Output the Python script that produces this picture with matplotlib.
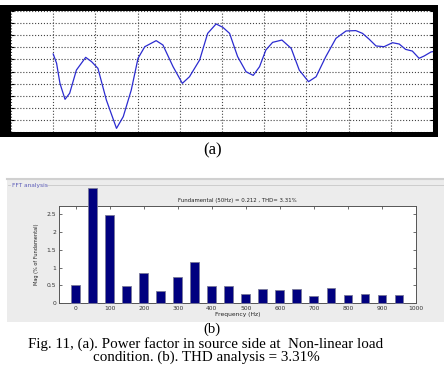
import matplotlib
matplotlib.use("Agg")
import matplotlib.pyplot as plt
from matplotlib.patches import Rectangle
from matplotlib.lines import Line2D

W, H = 444, 380

# (a) power factor trace (grid units 0..10)
pf_x = [1.0, 1.08, 1.16, 1.28, 1.39, 1.55, 1.77, 1.91, 2.06, 2.26, 2.50, 2.66,
        2.85, 3.01, 3.17, 3.44, 3.60, 3.84, 4.06, 4.23, 4.47, 4.66, 4.86, 5.02,
        5.18, 5.37, 5.57, 5.74, 5.89, 6.04, 6.20, 6.42, 6.64, 6.83, 7.05, 7.23,
        7.46, 7.70, 7.94, 8.17, 8.33, 8.49, 8.65, 8.84, 9.04, 9.20, 9.35, 9.51,
        9.67, 9.79, 9.95, 10.0]
pf_y = [6.45, 5.68, 4.02, 2.70, 3.20, 5.12, 6.17, 5.81, 5.26, 2.64, 0.30, 1.27,
        3.47, 6.09, 7.05, 7.55, 7.19, 5.40, 4.02, 4.57, 5.95, 8.15, 8.93, 8.65,
        8.15, 6.23, 4.98, 4.68, 5.40, 6.78, 7.41, 7.60, 6.91, 5.12, 4.16, 4.57,
        6.23, 7.74, 8.35, 8.38, 8.15, 7.66, 7.11, 7.05, 7.38, 7.27, 6.83, 6.69,
        6.09, 6.28, 6.61, 6.65]

# (b) FFT spectrum
freq = [0, 50, 100, 150, 200, 250, 300, 350, 400, 450,
        500, 550, 600, 650, 700, 750, 800, 850, 900, 950]
mag = [0.50, 3.21, 2.47, 0.48, 0.85, 0.33, 0.74, 1.16, 0.47, 0.47,
       0.26, 0.39, 0.36, 0.40, 0.21, 0.42, 0.22, 0.26, 0.22, 0.22]
xticks_b = [0, 100, 200, 300, 400, 500, 600, 700, 800, 900, 1000]
xticklabels_b = ['0', '100', '200', '300', '400', '500', '600', '700', '800', '900', '1000']
yticks_b = [0, 0.5, 1, 1.5, 2, 2.5]
yticklabels_b = ['0', '0.5', '1', '1.5', '2', '2.5']


def px_rect(x0, y0, x1, y1):
    # pixel box (top-left origin) -> figure fraction [l, b, w, h]
    return [x0 / W, 1 - y1 / H, (x1 - x0) / W, (y1 - y0) / H]


fig = plt.figure(figsize=(W / 100, H / 100), dpi=100)
fig.patch.set_facecolor('white')

# black frame around panel (a)
l, b, w, h = px_rect(0, 5, 438, 137)
fig.patches.append(Rectangle((l, b), w, h, transform=fig.transFigure,
                             facecolor='black', edgecolor='none', zorder=-2))

ax1 = fig.add_axes(px_rect(11, 11, 433, 132))
ax1.set_zorder(2)
ax1.set_facecolor('white')
ax1.plot(pf_x, pf_y, color='#2b2bd0', lw=0.9)
ax1.set_xlim(0, 10)
ax1.set_ylim(0, 10)
ax1.set_xticks(range(11))
ax1.set_yticks(range(11))
ax1.grid(True, linestyle=':', color='#444444', linewidth=0.8)
ax1.tick_params(direction='in', length=2.5, color='black', left=True, right=True,
                bottom=False, top=False, labelleft=False, labelbottom=False)
for s in ax1.spines.values():
    s.set_visible(False)

fig.text(213 / W, 1 - 150 / H, '(a)', ha='center', va='center',
         family='Liberation Serif', fontsize=12)

# gray panel of the FFT window
l, b, w, h = px_rect(7, 178, 444, 322)
fig.patches.append(Rectangle((l, b), w, h, transform=fig.transFigure,
                             facecolor='#ececec', edgecolor='none', zorder=-2))
fig.lines.append(Line2D([7 / W, 1], [1 - 179 / H, 1 - 179 / H], transform=fig.transFigure,
                        color='#d0d0d0', lw=1.5, zorder=-1))
fig.lines.append(Line2D([47 / W, 1], [1 - 185 / H, 1 - 185 / H], transform=fig.transFigure,
                        color='#c8c8c8', lw=0.6, zorder=-1))
fig.lines.append(Line2D([8 / W, 10 / W], [1 - 185 / H, 1 - 185 / H], transform=fig.transFigure,
                        color='#c8c8c8', lw=0.6, zorder=-1))
fig.text(12 / W, 1 - 185 / H, 'FFT analysis', ha='left', va='center',
         fontsize=4.2, color='#5a5ab8')

ax2 = fig.add_axes(px_rect(58.7, 206, 416, 303.3))
ax2.set_zorder(2)
ax2.set_facecolor('white')
ax2.bar(freq, mag, width=26, color='#00007f', edgecolor='#7a7a9a', linewidth=0.6,
        clip_on=False, zorder=3)
ax2.set_xlim(-50, 1000)
ax2.set_ylim(0, 2.72)
ax2.set_xticks(xticks_b)
ax2.set_xticklabels(xticklabels_b)
ax2.set_yticks(yticks_b)
ax2.set_yticklabels(yticklabels_b)
ax2.tick_params(direction='in', length=2.5, width=0.6, color='#555555',
                top=True, right=True, labelsize=4.3, pad=2, labelcolor='#333333')
for s in ax2.spines.values():
    s.set_color('#555555')
    s.set_linewidth(0.7)
ax2.set_title('Fundamental (50Hz) = 0.212 , THD= 3.31%', fontsize=3.9, pad=3,
              color='#222222')
ax2.set_xlabel('Frequency (Hz)', fontsize=4.3, labelpad=1, color='#222222')
ax2.set_ylabel('Mag (% of Fundamental)', fontsize=3.6, labelpad=5, color='#222222')

fig.text(212 / W, 1 - 329 / H, '(b)', ha='center', va='center',
         family='Liberation Serif', fontsize=10.5)
fig.text(206 / W, 1 - 337 / H,
         'Fig. 11, (a). Power factor in source side at  Non-linear load\n'
         'condition. (b). THD analysis = 3.31%',
         ha='center', va='top', multialignment='center', linespacing=0.95,
         family='Liberation Serif', fontsize=10.8)

fig.savefig('out.png', dpi=100)
